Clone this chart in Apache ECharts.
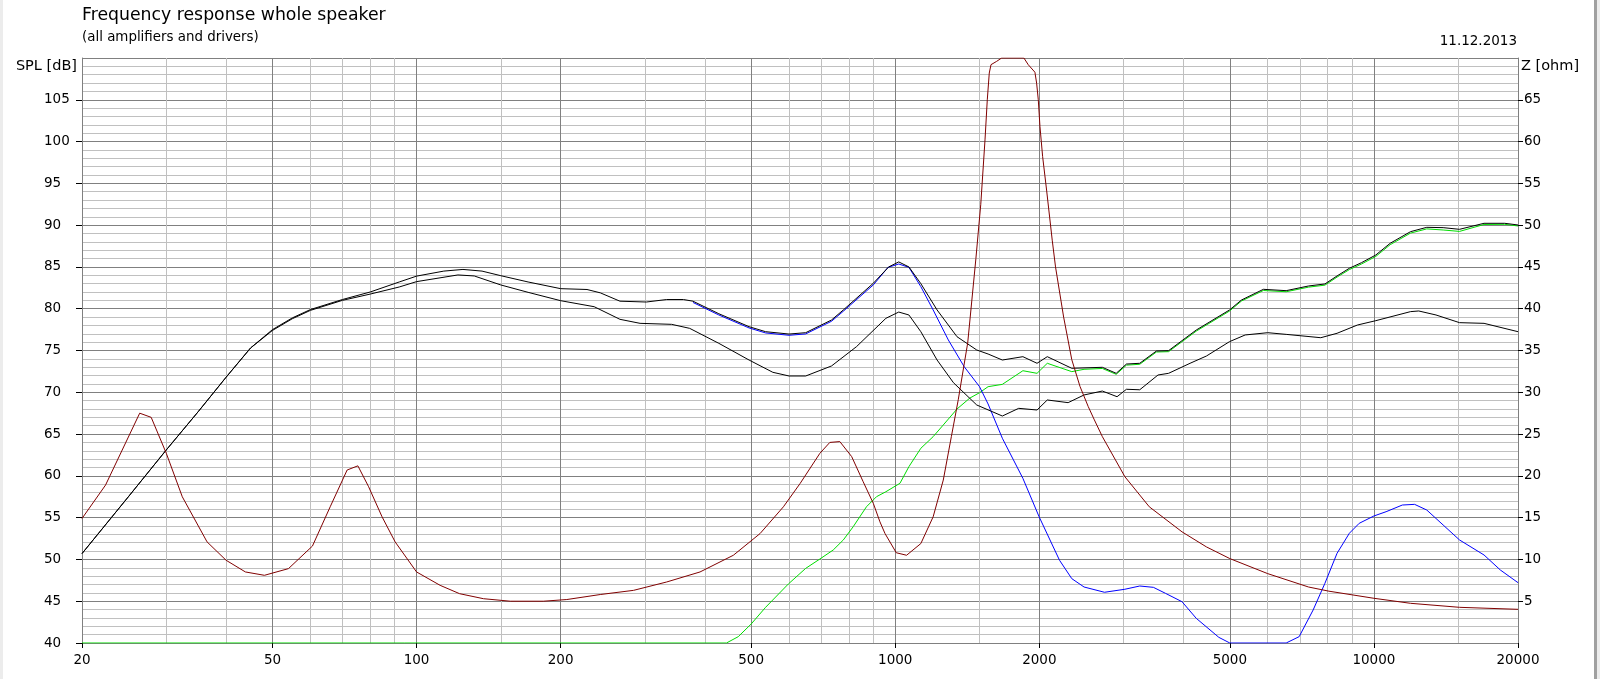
<!DOCTYPE html>
<html><head><meta charset="utf-8">
<script src="https://cdn.jsdelivr.net/npm/echarts@6/dist/echarts.min.js"></script>
<style>html,body{margin:0;padding:0;background:#fff}#c{width:1600px;height:679px}</style>
</head><body><div id="c"></div>
<script>
const FONT = 'DejaVu Sans';
const xMajorTicks = [20, 50, 100, 200, 500, 1000, 2000, 5000, 10000, 20000];
const xMinorGrid = [30, 40, 60, 70, 80, 90, 150, 300, 400, 600, 700, 800, 900, 1500, 3000, 4000, 6000, 7000, 8000, 9000, 15000];
const splTicks = [40, 45, 50, 55, 60, 65, 70, 75, 80, 85, 90, 95, 100, 105];
const ohmTicks = [5, 10, 15, 20, 25, 30, 35, 40, 45, 50, 55, 60, 65];

// Upper black SPL curve (sum)
const upperFreq = [20,25,30,35,40,45,50,55,60,70,80,92,100,114,125,137,150,171,200,227,242,266,302,333,361,378,428,495,536,600,650,736,779,900,969,1017,1068,1131,1223,1346,1480,1563,1674,1848,1978,2078,2338,2708,2895,3041,3242,3513,3724,4255,4993,5288,5876,6557,7302,7900,8375,8886,9422,10093,10814,11926,12897,13953,15096,16985,18760,20000];
const upperDb = [50.7,57.5,63.1,67.7,71.8,75.3,77.5,78.9,79.9,81.1,82.0,83.2,83.9,84.5,84.7,84.5,83.95,83.2,82.4,82.3,81.9,80.9,80.8,81.1,81.1,80.9,79.4,77.85,77.25,76.97,77.13,78.65,79.85,83.05,85.0,85.6,85.0,83.0,79.85,76.65,75.06,74.58,73.86,74.26,73.47,74.26,72.87,72.99,72.27,73.38,73.47,74.94,74.98,77.45,79.85,81.04,82.32,82.16,82.72,82.96,83.92,84.84,85.51,86.43,87.83,89.22,89.74,89.7,89.5,90.22,90.22,90.02];

// Lower black SPL curve
const lowerFreq = [20,25,30,35,40,45,50,55,60,70,80,92,100,122,132,150,171,200,235,266,293,341,372,428,495,555,600,650,736,830,956,1017,1068,1131,1223,1323,1480,1674,1811,1978,2078,2297,2480,2708,2907,3041,3242,3540,3724,4130,4468,4993,5384,6000,6557,7745,8375,9240,10093,11926,12406,13480,15096,16985,20000];
const lowerDb = [50.7,57.5,63.1,67.7,71.8,75.3,77.4,78.8,79.8,81.0,81.75,82.6,83.24,84.04,83.92,82.84,81.96,80.96,80.24,78.73,78.25,78.13,77.65,75.86,73.86,72.39,71.95,71.95,73.15,75.46,78.85,79.6,79.25,77.25,73.86,71.15,68.48,67.16,68.08,67.88,69.08,68.76,69.68,70.15,69.47,70.36,70.3,72.07,72.27,73.47,74.34,76.06,76.86,77.13,76.93,76.53,77.06,78.05,78.57,79.65,79.73,79.25,78.33,78.25,77.25];

// Blue curve (woofer)
const wooferFreq = [378,428,495,536,600,650,736,779,900,966,1017,1068,1131,1200,1291,1393,1500,1563,1674,1848,1998,2204,2338,2480,2736,3018,3242,3462,3670,3973,4255,4742,5000,6557,6980,7465,7900,8375,8886,9317,10000,10603,11466,12162,12897,13953,15096,16985,18366,20000];
const wooferDb = [80.75,79.25,77.7,77.1,76.82,76.98,78.5,79.7,82.85,84.95,85.35,84.95,82.64,79.85,76.26,73.07,70.67,68.6,64.5,59.7,55.1,49.9,47.7,46.7,46.07,46.43,46.82,46.66,45.94,44.94,42.95,40.68,40,40,40.76,43.95,47.14,50.73,53.13,54.32,55.2,55.71,56.51,56.59,55.91,54.12,52.33,50.53,48.74,47.22];

// Green curve (tweeter)
const tweeterFreq = [20,444,470,500,536,598,650,696,742,779,817,871,914,956,1023,1068,1131,1200,1260,1346,1431,1500,1563,1674,1848,1978,2078,2338,2480,2708,2895,3041,3242,3513,3724,4255,4993,5288,5876,6557,7302,7900,8375,8886,9422,10093,10814,11926,12897,13953,15096,16985,18760,20000];
const tweeterDb = [40,40,40.76,42.27,44.27,47.06,48.93,50.05,51.13,52.33,53.92,56.31,57.51,58.1,59.11,61.1,63.3,64.69,66.09,68.0,69.3,69.95,70.67,70.95,72.58,72.27,73.47,72.47,72.75,72.85,72.15,73.25,73.35,74.82,74.86,77.32,79.72,80.92,82.18,82.03,82.58,82.82,83.78,84.68,85.35,86.26,87.66,89.05,89.55,89.42,89.25,90.08,90.1,89.9];

// Dark red impedance curve (right axis, ohm)
const impFreq = [20,22.4,26.4,27.9,30,32.4,36.5,40,43.9,48.1,54,60.6,66,71.6,75.4,79.4,84.7,90.2,100,112,123,138,157,184,206,242,284,333,391,459,522,584,633,696,730,766,811,857,900,929,952,1005,1056,1131,1200,1260,1310,1354,1417,1474,1509,1540,1557,1572,1585,1629,1668,1857,1896,1958,1974,1990,2006,2032,2071,2128,2162,2248,2338,2432,2530,2606,2708,3018,3394,3973,4468,5000,6000,7302,8054,10000,11926,15096,20000];
const impOhm = [14.9,18.9,27.5,27.0,22.7,17.5,12.1,9.9,8.5,8.1,8.9,11.6,16.3,20.7,21.2,18.7,15.1,12.1,8.5,6.9,5.9,5.3,5.0,5.0,5.2,5.8,6.3,7.3,8.5,10.5,13.1,16.3,19.1,22.7,24.0,24.1,22.3,19.3,16.7,14.5,13.1,10.8,10.5,11.9,15.1,19.5,24.7,29.1,35.9,46.0,52.5,60.2,65.0,68.2,69.2,69.6,70,70,69.2,68.3,67.0,65.0,61.8,58.2,54.2,48.2,45.0,39.0,33.9,30.7,28.3,26.7,24.7,19.9,16.3,13.3,11.5,10.1,8.3,6.7,6.2,5.35,4.75,4.27,4.03];

const lg = v => Math.log10(v);
const pairs = (fs, vs) => fs.map((f, i) => [lg(f), vs[i]]);
const XMIN = lg(20), XMAX = lg(20000);

const chart = echarts.init(document.getElementById('c'), null, {renderer: 'canvas'});
const lineS = (name, fs, vs, color, yIdx) => ({
  name, type: 'line', xAxisIndex: 0, yAxisIndex: yIdx,
  data: pairs(fs, vs), showSymbol: false, symbol: 'none', smooth: false,
  lineStyle: {color, width: 1}, clip: true, silent: true, animation: false
});

chart.setOption({
  animation: false,
  backgroundColor: '#ffffff',
  textStyle: {fontFamily: FONT},
  grid: {left: 82, right: 82, top: 58, bottom: 36, containLabel: false},
  xAxis: [
    {
      type: 'value', position: 'bottom', min: XMIN, max: XMAX,
      axisLine: {show: true, lineStyle: {color: '#808080', width: 1}},
      axisTick: {show: true, length: 5, customValues: xMajorTicks.map(lg), lineStyle: {color: '#000'}},
      axisLabel: {show: true, customValues: xMajorTicks.map(lg), fontSize: 13.5, color: '#000', fontFamily: FONT, margin: 10,
        formatter: v => String(Math.round(Math.pow(10, v)))},
      splitLine: {show: true, lineStyle: {color: '#808080', width: 1}}
    },
    {
      type: 'value', position: 'top', min: XMIN, max: XMAX,
      axisLine: {show: false}, axisLabel: {show: false},
      axisTick: {show: false, customValues: xMinorGrid.map(lg)},
      splitLine: {show: true, lineStyle: {color: '#c0c0c0', width: 1}}
    }
  ],
  yAxis: [
    {
      type: 'value', position: 'left', min: 40, max: 110, interval: 5,
      axisLine: {show: true, lineStyle: {color: '#808080'}},
      axisTick: {show: true, length: 6, customValues: splTicks, lineStyle: {color: '#000'}},
      axisLabel: {show: true, customValues: splTicks, align: 'left', margin: 38, fontSize: 13.5, color: '#000', fontFamily: FONT},
      splitLine: {show: false}
    },
    {
      type: 'value', position: 'right', min: 0, max: 70, interval: 5,
      axisLine: {show: true, lineStyle: {color: '#808080'}},
      axisTick: {show: true, length: 5, customValues: ohmTicks, lineStyle: {color: '#000'}},
      axisLabel: {show: true, customValues: ohmTicks, margin: 6, fontSize: 13.5, color: '#000', fontFamily: FONT},
      splitLine: {show: false}
    },
    {
      type: 'value', position: 'right', min: 0, max: 70, interval: 5,
      axisLine: {show: false}, axisTick: {show: false}, axisLabel: {show: false},
      splitLine: {show: true, lineStyle: {color: '#808080', width: 1}},
      minorTick: {show: false, splitNumber: 5},
      minorSplitLine: {show: true, lineStyle: {color: '#c0c0c0', width: 1}}
    }
  ],
  series: [
    lineS('tweeter', tweeterFreq, tweeterDb, '#00dd00', 0),
    lineS('woofer', wooferFreq, wooferDb, '#0000ff', 0),
    lineS('lower', lowerFreq, lowerDb, '#000000', 0),
    lineS('upper', upperFreq, upperDb, '#000000', 0),
    lineS('impedance', impFreq, impOhm, '#800000', 1)
  ],
  graphic: [
    {type: 'rect', left: 0, top: 0, shape: {width: 3, height: 679}, style: {fill: '#ececec'}, silent: true},
    {type: 'rect', left: 1594, top: 0, shape: {width: 3, height: 679}, style: {fill: '#a0a0a0'}, silent: true},
    {type: 'rect', left: 1597, top: 0, shape: {width: 3, height: 679}, style: {fill: '#ececec'}, silent: true},
    {type: 'text', x: 82, y: 16, style: {text: 'Frequency response whole speaker', font: '17.3px "DejaVu Sans"', fill: '#000', textAlign: 'left', textVerticalAlign: 'middle'}},
    {type: 'text', x: 82, y: 37.5, style: {text: '(all amplifiers and drivers)', font: '13.4px "DejaVu Sans"', fill: '#000', textAlign: 'left', textVerticalAlign: 'middle'}},
    {type: 'text', x: 77, y: 66, style: {text: 'SPL [dB]', font: '14.5px "DejaVu Sans"', fill: '#000', textAlign: 'right', textVerticalAlign: 'middle'}},
    {type: 'text', x: 1521, y: 66, style: {text: 'Z [ohm]', font: '14.5px "DejaVu Sans"', fill: '#000', textAlign: 'left', textVerticalAlign: 'middle'}},
    {type: 'text', x: 1517, y: 41, style: {text: '11.12.2013', font: '13.5px "DejaVu Sans"', fill: '#000', textAlign: 'right', textVerticalAlign: 'middle'}}
  ]
});
</script>
</body></html>
